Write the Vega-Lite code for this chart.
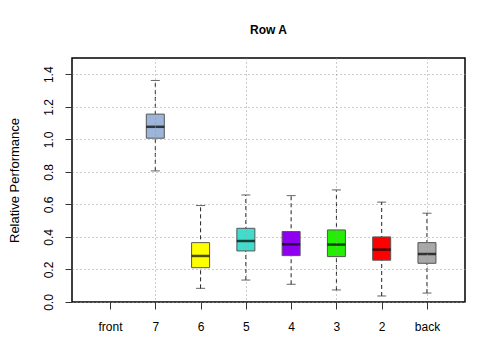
{
  "$schema": "https://vega.github.io/schema/vega-lite/v6.json",
  "width": 393,
  "height": 244,
  "autosize": "none",
  "padding": {"left": 72, "top": 58, "right": 15, "bottom": 58},
  "background": "white",
  "title": {"text": "Row A", "fontSize": 12, "fontWeight": "bold", "font": "Liberation Sans", "anchor": "middle", "offset": 21, "color": "black"},
  "config": {
    "view": {"stroke": "black", "strokeWidth": 1.5},
    "font": "Liberation Sans",
    "axisY": {
      "titleFontSize": 13, "titleFontWeight": "normal", "titleColor": "black", "titlePadding": 21,
      "tickCount": 8, "format": ".1f", "labelOverlap": false, "labelFlush": false,
      "labelAngle": -90, "labelFontSize": 12, "labelColor": "black", "labelPadding": 10,
      "domain": false, "tickColor": "#333", "tickSize": 7,
      "grid": true, "gridColor": "#999", "gridDash": [1, 3], "gridWidth": 1,
      "zindex": 1
    }
  },
  "data": {
    "values": [
      {"pos": "front", "lower": null, "q1": null, "median": null, "q3": null, "upper": null, "color": "#ffffff"},
      {"pos": "7", "lower": 0.806, "q1": 1.007, "median": 1.077, "q3": 1.155, "upper": 1.362, "color": "#9db5d8"},
      {"pos": "6", "lower": 0.084, "q1": 0.211, "median": 0.283, "q3": 0.365, "upper": 0.593, "color": "#ffff00"},
      {"pos": "5", "lower": 0.135, "q1": 0.314, "median": 0.375, "q3": 0.453, "upper": 0.658, "color": "#40dccc"},
      {"pos": "4", "lower": 0.109, "q1": 0.285, "median": 0.355, "q3": 0.433, "upper": 0.654, "color": "#9000f0"},
      {"pos": "3", "lower": 0.074, "q1": 0.279, "median": 0.353, "q3": 0.443, "upper": 0.689, "color": "#22f000"},
      {"pos": "2", "lower": 0.037, "q1": 0.257, "median": 0.322, "q3": 0.400, "upper": 0.614, "color": "#ff0000"},
      {"pos": "back", "lower": 0.055, "q1": 0.238, "median": 0.295, "q3": 0.365, "upper": 0.546, "color": "#a8a8a8"}
    ]
  },
  "encoding": {
    "x": {
      "field": "pos", "type": "nominal", "sort": null,
      "scale": {"type": "point", "domain": ["front", "7", "6", "5", "4", "3", "2", "back"], "padding": 0.84},
      "axis": {
        "title": null, "labelAngle": 0, "labelFontSize": 12, "labelColor": "black", "labelPadding": 12, "labelOverlap": false,
        "domain": false, "tickColor": "#333", "tickSize": 7, "tickWidth": 1,
        "grid": true, "gridColor": "#999", "gridDash": [1, 3], "gridWidth": 1,
        "gridOpacity": {"condition": {"test": "indexof(['7','5','3','back'], datum.value) >= 0", "value": 1}, "value": 0},
        "zindex": 1
      }
    }
  },
  "layer": [
    {
      "mark": {"type": "rule", "strokeDash": [4, 3], "color": "#222", "strokeWidth": 1},
      "encoding": {
        "y": {"field": "lower", "type": "quantitative", "scale": {"domain": [0, 1.5], "nice": false, "zero": false},
          "title": "Relative Performance"},
        "y2": {"field": "upper"}
      }
    },
    {
      "mark": {"type": "tick", "color": "#222", "size": 9, "thickness": 1},
      "encoding": {"y": {"field": "lower", "type": "quantitative", "title": "Relative Performance"}}
    },
    {
      "mark": {"type": "tick", "color": "#222", "size": 9, "thickness": 1},
      "encoding": {"y": {"field": "upper", "type": "quantitative", "title": "Relative Performance"}}
    },
    {
      "mark": {"type": "bar", "width": 18, "stroke": "#555", "strokeWidth": 1},
      "encoding": {
        "y": {"field": "q1", "type": "quantitative", "title": "Relative Performance"},
        "y2": {"field": "q3"},
        "fill": {"field": "color", "type": "nominal", "scale": null}
      }
    },
    {
      "mark": {"type": "tick", "color": "black", "size": 18, "thickness": 2.5},
      "encoding": {"y": {"field": "median", "type": "quantitative", "title": "Relative Performance"}}
    }
  ]
}
